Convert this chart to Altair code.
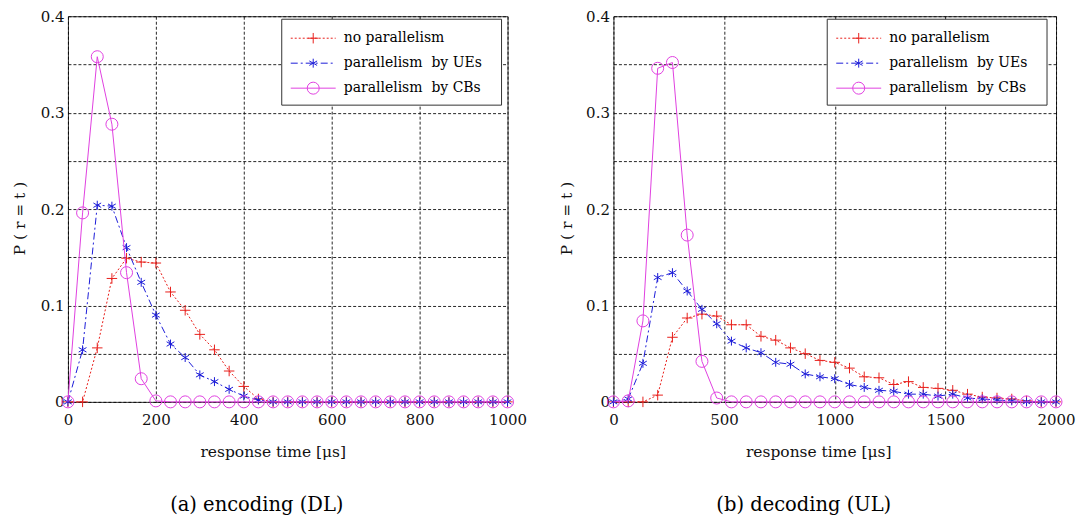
import altair as alt
import pandas as pd

# ---------------- data ----------------
series_names = ["no parallelism", "parallelism\u00a0 by UEs", "parallelism\u00a0 by CBs"]

x_dl = [0, 33.3, 66.7, 100, 133.3, 166.7, 200, 233.3, 266.7, 300, 333.3, 366.7, 400,
        433.3, 466.7, 500, 533.3, 566.7, 600, 633.3, 666.7, 700, 733.3, 766.7, 800,
        833.3, 866.7, 900, 933.3, 966.7, 1000]
dl_none = [0, 0, 0.056, 0.128, 0.149, 0.145, 0.144, 0.114, 0.095, 0.070, 0.054, 0.032,
           0.016, 0.003, 0, 0, 0, 0, 0, 0, 0, 0, 0, 0, 0, 0, 0, 0, 0, 0, 0]
dl_ues = [0, 0.054, 0.204, 0.203, 0.160, 0.124, 0.090, 0.060, 0.046, 0.028, 0.021, 0.013,
          0.006, 0.002, 0, 0, 0, 0, 0, 0, 0, 0, 0, 0, 0, 0, 0, 0, 0, 0, 0]
dl_cbs = [0, 0.196, 0.358, 0.288, 0.134, 0.024, 0.001, 0, 0, 0, 0, 0, 0, 0, 0, 0, 0, 0,
          0, 0, 0, 0, 0, 0, 0, 0, 0, 0, 0, 0, 0]

x_ul = [0, 66.7, 133.3, 200, 266.7, 333.3, 400, 466.7, 533.3, 600, 666.7, 733.3, 800,
        866.7, 933.3, 1000, 1066.7, 1133.3, 1200, 1266.7, 1333.3, 1400, 1466.7, 1533.3,
        1600, 1666.7, 1733.3, 1800, 1866.7, 1933.3, 2000]
ul_none = [0, 0, 0, 0.007, 0.067, 0.087, 0.091, 0.089, 0.080, 0.080, 0.068, 0.064, 0.056,
           0.050, 0.043, 0.041, 0.035, 0.026, 0.025, 0.018, 0.021, 0.015, 0.014, 0.012,
           0.008, 0.005, 0.004, 0.003, 0.001, 0, 0]
ul_ues = [0, 0.003, 0.040, 0.129, 0.134, 0.115, 0.096, 0.081, 0.063, 0.056, 0.051, 0.041,
          0.039, 0.029, 0.026, 0.024, 0.018, 0.015, 0.012, 0.011, 0.008, 0.008, 0.006,
          0.008, 0.004, 0.003, 0.002, 0.001, 0, 0, 0]
ul_cbs = [0, 0.001, 0.084, 0.346, 0.352, 0.173, 0.042, 0.004, 0, 0, 0, 0, 0, 0, 0, 0, 0,
          0, 0, 0, 0, 0, 0, 0, 0, 0, 0, 0, 0, 0, 0]

y_ticks = [0, 0.05, 0.1, 0.15, 0.2, 0.25, 0.3, 0.35, 0.4]
x_ticks_dl = [0, 200, 400, 600, 800, 1000]
x_ticks_ul = [0, 500, 1000, 1500, 2000]
captions = ["(a) encoding (DL)", "(b) decoding (UL)"]

# ---------------- styles ----------------
PLUS = "M-1,0L1,0M0,-1L0,1"
STAR = "M0,-1L0,1M-0.87,-0.5L0.87,0.5M-0.87,0.5L0.87,-0.5"
colors = ["#e8201c", "#1c1cd8", "#e040e0"]
dashes = [[2, 2], [7, 3, 2, 3], None]
shapes = [PLUS, STAR, "circle"]
sizes = [110, 80, 144]

FONT = "DejaVu Serif"
W_L, W_R, H = 440, 443, 386


def panel(xs, ys, xmax, xticks, width, caption, ytitle_x):
    xscale = alt.Scale(domain=[0, xmax], nice=False, zero=False)
    yscale = alt.Scale(domain=[0, 0.4], nice=False)
    xaxis = alt.Axis(values=xticks, title="response time [μs]", format="d",
                     labelFlush=False, labelOverlap=False, labelPadding=11,
                     titleX=205, titleY=50, titleBaseline="middle")
    yaxis = alt.Axis(values=y_ticks, title="P ( r = t )", format="~g",
                     labelExpr="indexof(['0','0.1','0.2','0.3','0.4'], datum.label) >= 0 ? datum.label : ''",
                     labelFlush=False, labelOverlap=False, labelPadding=4,
                     titleX=ytitle_x, titleY=202, titleBaseline="middle")
    layers = []
    for i in range(len(series_names)):
        df = pd.DataFrame({"t": xs, "p": ys[i]})
        base = alt.Chart(df).encode(
            x=alt.X("t:Q", scale=xscale, axis=xaxis),
            y=alt.Y("p:Q", scale=yscale, axis=yaxis),
        )
        lkw = dict(color=colors[i], strokeWidth=1)
        if dashes[i]:
            lkw["strokeDash"] = dashes[i]
        layers.append(base.mark_line(**lkw))
        layers.append(base.mark_point(shape=shapes[i], size=sizes[i], filled=False,
                                      color=colors[i], strokeWidth=1, opacity=1))

    # legend box (inside plot, top-right)
    one = pd.DataFrame({"k": [0]})
    bx0, bx1, by0, by1 = 214, 434, 3, 89
    layers.append(alt.Chart(one).mark_rect(fill="white", stroke="#333", strokeWidth=1).encode(
        x=alt.value(bx0), x2=alt.value(bx1), y=alt.value(by0), y2=alt.value(by1)))
    for i, name in enumerate(series_names):
        yy = 22 + i * 25
        rkw = dict(color=colors[i], strokeWidth=1)
        if dashes[i]:
            rkw["strokeDash"] = dashes[i]
        layers.append(alt.Chart(one).mark_rule(**rkw).encode(
            x=alt.value(223), x2=alt.value(268), y=alt.value(yy)))
        layers.append(alt.Chart(one).mark_point(shape=shapes[i], size=sizes[i], filled=False,
                                                color=colors[i], strokeWidth=1, opacity=1).encode(
            x=alt.value(245.5), y=alt.value(yy)))
        layers.append(alt.Chart(one).mark_text(align="left", baseline="middle", font=FONT,
                                               fontSize=14, color="black").encode(
            x=alt.value(276), y=alt.value(yy), text=alt.value(name)))

    return alt.layer(*layers).properties(
        width=width, height=H,
        title=alt.TitleParams(caption, orient="bottom", offset=36, font=FONT, fontSize=19.5,
                              fontWeight="normal", color="black", anchor="middle",
                              frame="group", dx=-31),
    )


left = panel(x_dl, [dl_none, dl_ues, dl_cbs], 1000, x_ticks_dl, W_L, captions[0], -48)
right = panel(x_ul, [ul_none, ul_ues, ul_cbs], 2000, x_ticks_ul, W_R, captions[1], -47)

chart = alt.hconcat(left, right, spacing=106, bounds="flush").properties(
    padding={"left": 4, "top": 0, "right": 0, "bottom": 0}
).configure_view(stroke="#333", strokeWidth=1).configure_axis(
    grid=True, gridColor="#000", gridDash=[3, 2], gridWidth=1, gridOpacity=0.85,
    domain=False, ticks=False,
    labelFont=FONT, labelFontSize=15, labelColor="#111",
    titleFont=FONT, titleFontSize=15.5, titleFontWeight="normal", titleColor="#111",
)

chart.save("out.html", embed_options={"renderer": "svg", "actions": False})
